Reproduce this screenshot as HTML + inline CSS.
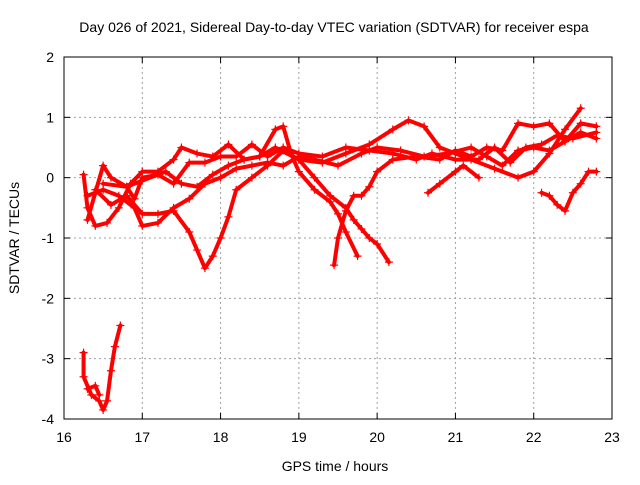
<!DOCTYPE html>
<html><head><meta charset="utf-8"><style>
body{margin:0;background:#fff;}
svg{font-family:"Liberation Sans",sans-serif;}
</style></head><body>
<svg id="chart" width="640" height="480" viewBox="0 0 640 480" xmlns="http://www.w3.org/2000/svg">
<rect width="640" height="480" fill="#fff"/>
<text x="334" y="32" font-size="14" text-anchor="middle">Day 026 of 2021, Sidereal Day-to-day VTEC variation (SDTVAR) for receiver espa</text>
<g id="grid"></g><g id="axes"></g><g id="series"></g>
<text x="335" y="471" font-size="14" text-anchor="middle">GPS time / hours</text>
<text x="19" y="238" font-size="14" text-anchor="middle" transform="rotate(-90 19 238)">SDTVAR / TECUs</text>
</svg>
<script>
const xTicks=[16,17,18,19,20,21,22,23];
const yTicks=[-4,-3,-2,-1,0,1,2];
const trackA=[[16.25,-2.9],[16.25,-3.3],[16.35,-3.6],[16.45,-3.7],[16.5,-3.85],[16.55,-3.7],[16.6,-3.2],[16.65,-2.8],[16.72,-2.45]];
const trackA2=[[16.3,-3.5],[16.4,-3.45],[16.45,-3.6]];
const trackB=[[16.25,0.05],[16.3,-0.5],[16.4,-0.8],[16.55,-0.75],[16.7,-0.5],[16.85,-0.1],[17.0,0.1],[17.2,0.1],[17.4,0.3],[17.5,0.5],[17.7,0.4],[17.9,0.35],[18.1,0.55],[18.3,0.3],[18.5,0.35],[18.7,0.5],[19.0,0.3],[19.3,0.25],[19.6,0.4],[19.9,0.55],[20.2,0.8],[20.4,0.95],[20.6,0.85],[20.8,0.5],[21.0,0.4],[21.2,0.3],[21.5,0.15],[21.8,0.0],[22.0,0.1],[22.2,0.4],[22.4,0.8],[22.6,1.15]];
const trackC=[[16.3,-0.3],[16.5,-0.2],[16.7,-0.3],[16.9,-0.5],[17.0,-0.8],[17.2,-0.75],[17.4,-0.5],[17.6,-0.35],[17.8,-0.1],[18.0,0.0],[18.2,0.15],[18.4,0.2],[18.6,0.25],[18.8,0.2],[19.0,0.35],[19.2,0.3],[19.5,0.2],[19.8,0.4],[20.0,0.5],[20.3,0.45],[20.6,0.35],[20.9,0.4],[21.2,0.5],[21.4,0.35],[21.6,0.2],[21.8,0.45],[22.0,0.5],[22.2,0.45],[22.4,0.6],[22.6,0.75],[22.8,0.65]];
const trackD=[[16.4,-0.2],[16.6,-0.45],[16.8,-0.3],[17.0,-0.6],[17.2,-0.6],[17.4,-0.55],[17.6,-0.9],[17.7,-1.2],[17.8,-1.5],[17.9,-1.3],[18.0,-1.0],[18.1,-0.65],[18.2,-0.2],[18.4,0.0],[18.6,0.2],[18.8,0.45],[19.0,0.3],[19.2,0.0],[19.4,-0.3],[19.6,-0.5],[19.7,-0.7],[19.8,-0.85],[19.9,-1.0],[20.0,-1.1],[20.15,-1.4]];
const trackE=[[16.5,-0.1],[16.8,-0.15],[17.0,-0.05],[17.3,0.1],[17.5,-0.1],[17.7,-0.15],[17.9,0.05],[18.1,0.2],[18.3,0.3],[18.5,0.35],[18.7,0.8],[18.8,0.85],[18.9,0.4],[19.0,0.1],[19.2,-0.2],[19.4,-0.4],[19.5,-0.6],[19.6,-0.9],[19.75,-1.3]];
const trackF=[[19.45,-1.45],[19.5,-1.0],[19.6,-0.55],[19.7,-0.3],[19.8,-0.3],[19.9,-0.15],[20.0,0.1],[20.2,0.3],[20.5,0.35],[20.8,0.3],[21.0,0.45],[21.2,0.35],[21.4,0.5],[21.6,0.45],[21.8,0.9],[22.0,0.85],[22.2,0.9],[22.4,0.6],[22.6,0.9],[22.8,0.85]];
const trackG=[[20.65,-0.25],[20.8,-0.1],[21.0,0.1],[21.1,0.2],[21.3,0.0]];
const trackH=[[22.1,-0.25],[22.2,-0.3],[22.3,-0.45],[22.4,-0.55],[22.5,-0.25],[22.6,-0.1],[22.7,0.1],[22.8,0.1]];
const trackI=[[16.3,-0.7],[16.5,0.2],[16.6,0.0],[16.8,-0.15],[16.9,-0.35],[17.0,0.0],[17.2,0.05],[17.4,-0.1],[17.6,0.25],[17.8,0.25],[18.0,0.35],[18.2,0.35],[18.4,0.55],[18.6,0.35],[18.8,0.5],[19.0,0.4],[19.3,0.35],[19.6,0.5],[19.9,0.45],[20.2,0.4],[20.5,0.3],[20.7,0.4],[21.0,0.3],[21.3,0.3],[21.5,0.5],[21.7,0.25],[21.9,0.5],[22.1,0.55],[22.3,0.7],[22.5,0.65],[22.8,0.75]];
const tracks=[trackA,trackA2,trackB,trackC,trackD,trackE,trackF,trackG,trackH,trackI];

const L=64,R=612,T=57,B=419,x0=16,x1=23,y0=-4,y1=2;
const sx=v=>L+(v-x0)/(x1-x0)*(R-L);
const sy=v=>B-(v-y0)/(y1-y0)*(B-T);
const NS="http://www.w3.org/2000/svg";
function mk(tag,attrs,parent){const e=document.createElementNS(NS,tag);for(const k in attrs)e.setAttribute(k,attrs[k]);parent.appendChild(e);return e;}
const grid=document.getElementById('grid'),axes=document.getElementById('axes'),ser=document.getElementById('series');
xTicks.forEach(t=>{
  const x=sx(t);
  if(t>x0&&t<x1){const g=mk('line',{x1:x,x2:x,y1:T,y2:B,stroke:'#a0a0a0','stroke-dasharray':'2,3','stroke-width':1},grid);
  
  }
  mk('line',{x1:x,x2:x,y1:B,y2:B-6,stroke:'#000'},axes);
  mk('line',{x1:x,x2:x,y1:T,y2:T+6,stroke:'#000'},axes);
  const lb=mk('text',{x:x,y:B+23,'font-size':14,'text-anchor':'middle'},axes);lb.textContent=t;
  
  
});
yTicks.forEach(t=>{
  const y=sy(t);
  if(t>y0&&t<y1){const g=mk('line',{x1:L,x2:R,y1:y,y2:y,stroke:'#a0a0a0','stroke-dasharray':'2,3','stroke-width':1},grid);
  
  }
  mk('line',{x1:L,x2:L+6,y1:y,y2:y,stroke:'#000'},axes);
  mk('line',{x1:R,x2:R-6,y1:y,y2:y,stroke:'#000'},axes);
  const lb=mk('text',{x:L-10,y:y+5,'font-size':14,'text-anchor':'end'},axes);lb.textContent=t;
  
  
});
const fr=mk('rect',{x:L,y:T,width:R-L,height:B-T,fill:'none',stroke:'#000'},axes);


tracks.forEach(tr=>{
  const pts=tr.map(p=>sx(p[0])+','+sy(p[1])).join(' ');
  const pl=mk('polyline',{points:pts,fill:'none',stroke:'#ff0000','stroke-width':4,'stroke-linejoin':'round','stroke-linecap':'round'},ser);
  
  
  tr.forEach(p=>{
    const x=sx(p[0]),y=sy(p[1]);
    const m=mk('path',{d:`M${x-4},${y}H${x+4}M${x},${y-4}V${y+4}`,stroke:'#ff0000','stroke-width':1.2},ser);
    
    
  });
});
</script>
</body></html>
